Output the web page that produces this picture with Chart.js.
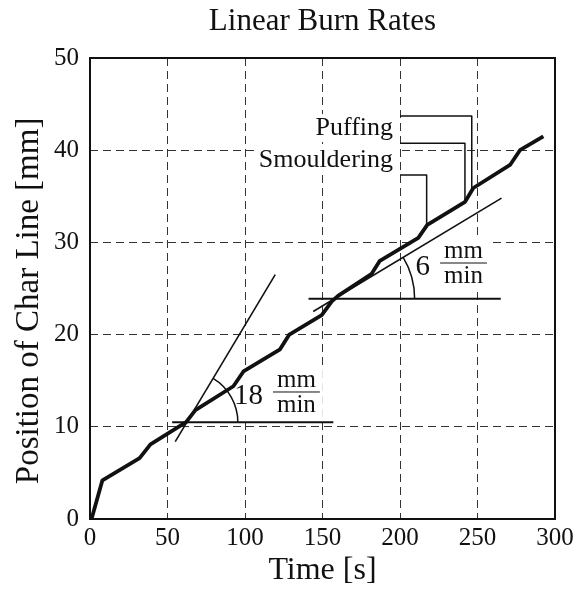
<!DOCTYPE html>
<html lang="en">
<head>
<meta charset="UTF-8">
<title>Linear Burn Rates</title>
<script src="https://cdn.jsdelivr.net/npm/chart.js"></script>
<style>
  html, body { margin: 0; padding: 0; background: #fff; }
</style>
</head>
<body>
<canvas id="chart" width="586" height="590"></canvas>
<script>
// measured char line position
const timeS  = [1, 8, 32, 39, 62, 68, 92.5, 99, 122.6, 128.6, 149.5, 156, 160, 181.7, 187, 211.8, 217.6, 242, 247.3, 271, 277.4, 292.5];
const charMm = [0, 4.2, 6.6, 8.1, 10.5, 11.8, 14.4, 16, 18.4, 20, 22.1, 23.6, 24.2, 26.6, 28, 30.5, 31.9, 34.4, 35.9, 38.4, 40, 41.5];

// fitted burn rate lines + their horizontal references
const fit18X = [55, 119.5];
const fit18Y = [8.4, 26.5];
const base18X = [53, 157];
const base18Y = [10.5, 10.5];
const fit6X = [144, 265.5];
const fit6Y = [22.5, 34.8];
const base6X = [141, 265];
const base6Y = [23.9, 23.9];

// leader lines for the labels
const puffTopX = [200, 246.3, 246.3];
const puffTopY = [43.7, 43.7, 35.7];
const puffLowX = [200, 241.9, 241.9];
const puffLowY = [40.75, 40.75, 34.3];
const smoulX = [200, 217.2, 217.2];
const smoulY = [37.3, 37.3, 31.7];

const phaseLabels = ['Puffing', 'Smouldering'];
const phaseLabelX = [195.5, 195.5];
const phaseLabelY = [42.4, 38.9];

const rateValues = ['18', '6'];
const rateLabelX = [111.6, 219.4];
const rateLabelY = [13.45, 27.44];

const xTicks = [0, 50, 100, 150, 200, 250, 300];
const yTicks = [0, 10, 20, 30, 40, 50];

const SERIF = "'Liberation Serif', 'Times New Roman', serif";
Chart.defaults.font.family = SERIF;
Chart.defaults.color = '#111';

function pts(xs, ys) {
    return xs.map(function(v, i) { return {x: v, y: ys[i]}; });
}

function lineSet(xs, ys, width) {
    return {
        data: pts(xs, ys),
        showLine: true,
        borderColor: '#111',
        borderWidth: width,
        pointRadius: 0,
        fill: false,
        borderJoinStyle: 'round'
    };
}

const annotate = {
    id: 'annotate',
    beforeDatasetsDraw(chart) {
        const ctx = chart.ctx, x = chart.scales.x, y = chart.scales.y;
        ctx.save();
        ctx.textBaseline = 'middle';

        // phase labels, white behind so grid is hidden
        ctx.font = '26px ' + SERIF;
        ctx.textAlign = 'right';
        phaseLabels.forEach(function(txt, i) {
            const px = x.getPixelForValue(phaseLabelX[i]);
            const py = y.getPixelForValue(phaseLabelY[i]);
            const w = ctx.measureText(txt).width;
            ctx.fillStyle = '#fff';
            ctx.fillRect(px - w - 4, py - 14, w + 8, 28);
            ctx.fillStyle = '#111';
            ctx.fillText(txt, px, py);
        });

        // rate labels:  N mm/min
        rateValues.forEach(function(val, i) {
            const px = x.getPixelForValue(rateLabelX[i]);
            const py = y.getPixelForValue(rateLabelY[i]);
            ctx.font = '29px ' + SERIF;
            const nw = ctx.measureText(val).width;
            ctx.font = '25px ' + SERIF;
            const fw = ctx.measureText('min').width + 8;
            ctx.fillStyle = '#fff';
            ctx.fillRect(px - nw - 3, py - 28, nw + fw + 16, 54);
            ctx.fillStyle = '#111';
            ctx.textAlign = 'right';
            ctx.font = '29px ' + SERIF;
            ctx.fillText(val, px, py + 1);
            const fx = px + 10 + fw / 2;
            const barY = py - 3;
            ctx.textAlign = 'center';
            ctx.font = '25px ' + SERIF;
            ctx.textBaseline = 'alphabetic';
            ctx.fillText('mm', fx, barY - 5);
            ctx.textBaseline = 'top';
            ctx.fillText('min', fx, barY + 1);
            ctx.textBaseline = 'middle';
            ctx.strokeStyle = '#111';
            ctx.lineWidth = 1;
            ctx.beginPath();
            ctx.moveTo(fx - fw / 2, barY);
            ctx.lineTo(fx + fw / 2, barY);
            ctx.stroke();
        });
        ctx.restore();
    },
    afterDatasetsDraw(chart) {
        const ctx = chart.ctx, a = chart.chartArea, x = chart.scales.x, y = chart.scales.y;
        ctx.save();
        // angle arcs between fitted line and horizontal
        const arcs = [[fit18X, fit18Y, base18Y[0], 51], [fit6X, fit6Y, base6Y[0], 80]];
        ctx.strokeStyle = '#111';
        ctx.lineWidth = 1.5;
        arcs.forEach(function(d) {
            const fx = d[0], fy = d[1], by = d[2], r = d[3];
            const t = (by - fy[0]) / (fy[1] - fy[0]);
            const cx = x.getPixelForValue(fx[0] + t * (fx[1] - fx[0]));
            const cy = y.getPixelForValue(by);
            const ang = Math.atan2(y.getPixelForValue(fy[1]) - y.getPixelForValue(fy[0]),
                                   x.getPixelForValue(fx[1]) - x.getPixelForValue(fx[0]));
            ctx.beginPath();
            ctx.arc(cx, cy, r, ang, 0);
            ctx.stroke();
        });
        // frame
        ctx.lineWidth = 2;
        ctx.strokeRect(a.left, a.top, a.right - a.left, a.bottom - a.top);
        ctx.restore();
    }
};

const gridOpts = { color: '#333', lineWidth: 1, drawTicks: false, borderDash: [8, 5] };

new Chart(document.getElementById('chart'), {
    type: 'scatter',
    data: {
        datasets: [
            lineSet(fit18X, fit18Y, 1.6),
            lineSet(base18X, base18Y, 2),
            lineSet(fit6X, fit6Y, 1.6),
            lineSet(base6X, base6Y, 2),
            lineSet(puffTopX, puffTopY, 1.5),
            lineSet(puffLowX, puffLowY, 1.5),
            lineSet(smoulX, smoulY, 1.5),
            lineSet(timeS, charMm, 3.8)
        ]
    },
    options: {
        responsive: false,
        animation: false,
        layout: { padding: { left: 0, right: 31, top: 0, bottom: 0 } },
        plugins: {
            legend: { display: false },
            tooltip: { enabled: false },
            title: {
                display: true,
                text: 'Linear Burn Rates',
                fullSize: false,
                color: '#111',
                font: { size: 31, weight: 'normal' },
                padding: { top: 3.4, bottom: 17.4 }
            }
        },
        scales: {
            x: {
                type: 'linear',
                min: 0, max: 300,
                afterBuildTicks: function(s) { s.ticks = xTicks.map(function(v) { return {value: v}; }); },
                afterFit: function(s) { s.height = 71; },
                ticks: { font: { size: 25 }, color: '#111', padding: 4, maxRotation: 0 },
                grid: gridOpts,
                border: { display: false, dash: [8, 5] },
                title: { display: true, text: 'Time [s]', color: '#111', font: { size: 32 }, padding: { top: 0, bottom: 0 } }
            },
            y: {
                type: 'linear',
                min: 0, max: 50,
                afterBuildTicks: function(s) { s.ticks = yTicks.map(function(v) { return {value: v}; }); },
                afterFit: function(s) { s.width = 90; },
                ticks: { font: { size: 25 }, color: '#111', padding: 11 },
                grid: gridOpts,
                border: { display: false, dash: [8, 5] },
                title: { display: true, text: 'Position of Char Line [mm]   ', color: '#111', font: { size: 33 }, padding: { top: 10, bottom: 0 } }
            }
        }
    },
    plugins: [annotate]
});
</script>
</body>
</html>
